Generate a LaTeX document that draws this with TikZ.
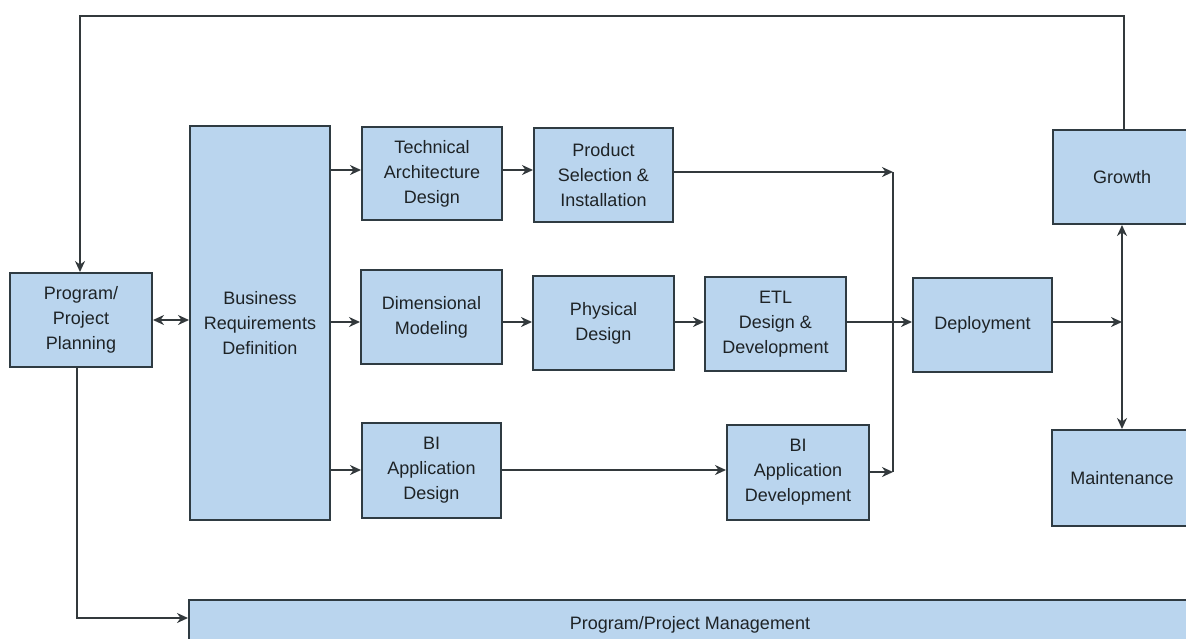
\documentclass[tikz,border=0pt]{standalone}
\usepackage{fontspec}
\setmainfont{Liberation Sans}
\usetikzlibrary{arrows.meta}
\definecolor{boxfill}{HTML}{BAD5EE}
\definecolor{boxline}{HTML}{2F3B42}
\definecolor{wire}{HTML}{33393C}
\definecolor{ink}{HTML}{1E2326}
\begin{document}
\begin{tikzpicture}[x=1pt,y=-1pt,
  box/.style={draw=boxline,fill=boxfill,line width=2pt,align=center,
    text=ink,font=\fontsize{18}{25}\selectfont,inner sep=2pt},
  wireline/.style={draw=wire,line width=2.2pt},
  arr/.style={wireline,-{Stealth[length=11pt,width=10pt]}},
  darr/.style={wireline,{Stealth[length=11pt,width=10pt]}-{Stealth[length=11pt,width=10pt]}}]
\useasboundingbox (0,0) rectangle (1186,638);
\clip (0,0) rectangle (1186,638);

% process boxes
\node[box,minimum width=142pt,minimum height=94pt] (plan) at (81,320) {Program/\\Project\\Planning};
\node[box,minimum width=140pt,minimum height=394pt] (brd) at (260,323) {Business\\Requirements\\Definition};
\node[box,minimum width=140pt,minimum height=93pt] (tad) at (432,173.5) {Technical\\Architecture\\Design};
\node[box,minimum width=139pt,minimum height=94pt] (psi) at (603.5,175) {Product\\Selection \&\\Installation};
\node[box,minimum width=141pt,minimum height=94pt] (dm) at (431.5,317) {Dimensional\\Modeling};
\node[box,minimum width=141pt,minimum height=94pt] (pd) at (603.5,323) {Physical\\Design};
\node[box,minimum width=141pt,minimum height=94pt] (etl) at (775.5,324) {ETL\\Design \&\\Development};
\node[box,minimum width=139pt,minimum height=95pt] (bad) at (431.5,470.5) {BI\\Application\\Design};
\node[box,minimum width=142pt,minimum height=95pt] (badev) at (798,472.5) {BI\\Application\\Development};
\node[box,minimum width=139pt,minimum height=94pt] (dep) at (982.5,325) {Deployment};
\node[box,minimum width=138pt,minimum height=94pt] (growth) at (1122,177) {Growth};
\node[box,minimum width=140pt,minimum height=96pt] (maint) at (1122,478) {Maintenance};
\node[box,minimum width=1002pt,minimum height=48pt,text depth=0pt] (ppm) at (690,624) {\raisebox{3pt}{Program/Project Management}};

% connector levels and junction points
\coordinate (rowT) at (0,170);
\coordinate (rowM) at (0,322);
\coordinate (rowB) at (0,470);
\coordinate (rowP) at (0,618);
\coordinate (jtop) at (893,172);
\coordinate (jbot) at (893,472);
\coordinate (jright) at (1122,322);
\coordinate (loopR) at (1124,16);
\coordinate (loopL) at (80,16);
\coordinate (down) at (77,0);

% feedback loop from growth back to planning
\draw[arr] (growth.north -| loopR) -- (loopR) -- (loopL) -- (plan.north -| loopL);
% planning to project management
\draw[arr] (plan.south -| down) -- (down |- rowP) -- (ppm.west |- rowP);
% planning and requirements
\draw[darr] (plan.east) -- (brd.west |- plan.east);
% requirements to the three tracks
\draw[arr] (brd.east |- rowT) -- (tad.west |- rowT);
\draw[arr] (brd.east |- rowM) -- (dm.west |- rowM);
\draw[arr] (brd.east |- rowB) -- (bad.west |- rowB);
% technology track
\draw[arr] (tad.east |- rowT) -- (psi.west |- rowT);
\draw[arr] (psi.east |- jtop) -- (jtop);
% data track
\draw[arr] (dm.east |- rowM) -- (pd.west |- rowM);
\draw[arr] (pd.east |- rowM) -- (etl.west |- rowM);
\draw[arr] (etl.east |- rowM) -- (dep.west |- rowM);
% BI application track
\draw[arr] (bad.east |- rowB) -- (badev.west |- rowB);
\draw[arr] (badev.east |- jbot) -- (jbot);
\draw[wireline] (jtop) -- (jbot);
% deployment to growth and maintenance
\draw[arr] (dep.east |- jright) -- (jright);
\draw[darr] (growth.south) -- (maint.north);
\end{tikzpicture}
\end{document}
